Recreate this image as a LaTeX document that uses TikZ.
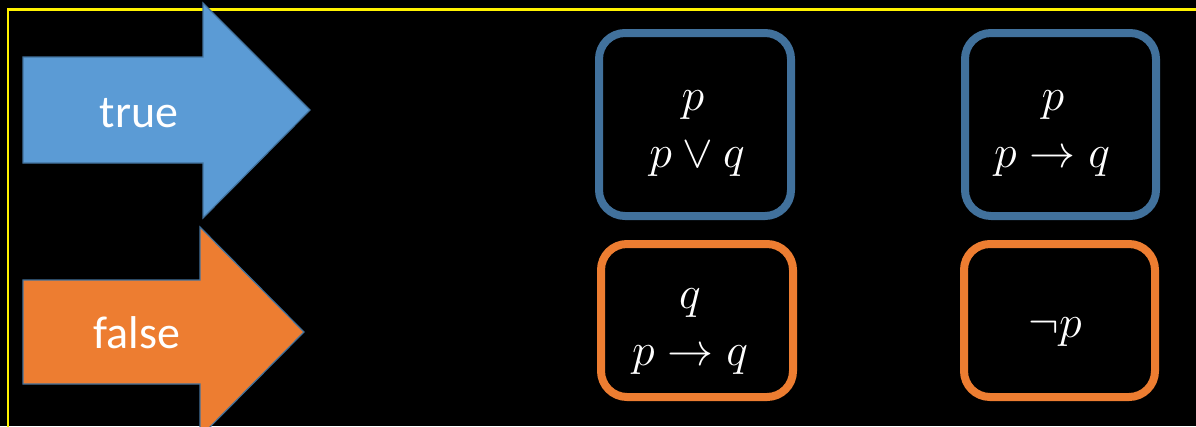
\RequirePackage{fix-cm}
\documentclass[tikz,border=0pt]{standalone}
\usepackage{fontspec}
\newfontfamily\calibri{Carlito}
\DeclareMathSizes{46}{46}{32}{23}
\definecolor{bblue}{HTML}{5B9BD5}
\definecolor{dblue}{HTML}{41719C}
\definecolor{orng}{HTML}{ED7D31}
\begin{document}
\begin{tikzpicture}[x=1pt,y=-1pt,
  boxb/.style={draw=dblue, line width=8pt, rounded corners=26pt, minimum width=192pt, inner sep=0pt},
  arrowlabel/.style={text=white, font=\calibri\fontsize{46}{55}\selectfont, anchor=base, inner sep=0pt},
  mathtext/.style={text=white, font=\fontsize{46}{55}\selectfont, anchor=base, inner sep=0pt},
  arrowshape/.style={draw=dblue, line width=1.2pt}]
\useasboundingbox (0,0) rectangle (1196,426);
\fill[black] (0,0) rectangle (1196,426);
\draw[yellow, line width=2.5pt] (8,9.5) rectangle (1215,445);
% arrows
\filldraw[arrowshape, fill=bblue] (23,57) -- (203,57) -- (203,3) -- (310,110) -- (203,218) -- (203,163) -- (23,163) -- cycle;
\filldraw[arrowshape, fill=orng] (23,280) -- (200,280) -- (200,227) -- (304,332) -- (200,437) -- (200,384) -- (23,384) -- cycle;
\node[arrowlabel] (lt) at (139,127) {true};
\node[arrowlabel] (lf) at (137,348) {false};
% boxes
\node[boxb, minimum height=183pt] (b1) at (695,124.5) {};
\node[boxb, minimum height=183pt, minimum width=191pt] (b2) at (1060.5,124.5) {};
\node[boxb, draw=orng, minimum height=153pt] (b3) at (697,320.5) {};
\node[boxb, draw=orng, minimum height=153pt, minimum width=191pt] (b4) at (1059.5,320.5) {};
% texts
\node[mathtext] (t1a) at (693,110) {$p$};
\node[mathtext] (t1b) at (697,167) {$p\vee q$};
\node[mathtext] (t2a) at (1053,110) {$p$};
\node[mathtext] (t2b) at (1052,167) {$p\to q$};
\node[mathtext] (t3a) at (690,308) {$q$};
\node[mathtext] (t3b) at (690,365) {$p\to q$};
\node[mathtext] (t4) at (1055,337) {$\neg p$};
\end{tikzpicture}
\end{document}
